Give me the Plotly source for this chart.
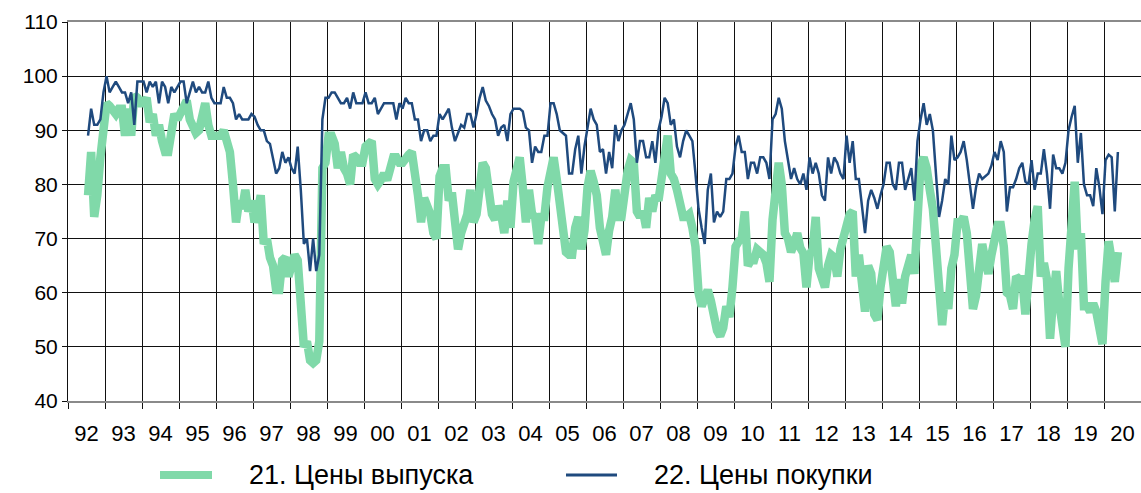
import pandas as pd
import plotly.graph_objects as go

start_month = "1992-07"
year_labels = ["92", "93", "94", "95", "96", "97", "98", "99", "00", "01", "02", "03", "04", "05",
               "06", "07", "08", "09", "10", "11", "12", "13", "14", "15", "16", "17", "18", "19", "20"]
y_ticks = [40, 50, 60, 70, 80, 90, 100, 110]
series_names = ["21. Цены выпуска", "22. Цены покупки"]

output_prices = [
    78, 86, 74, 78, 85, 91,
    95, 94.5, 94, 93, 94, 94, 89, 94, 89, 96.5, 96, 95,
    95, 96, 91.5, 93, 89, 91, 88, 86, 86, 91, 93, 92,
    93, 94.5, 95.5, 92, 91, 89.5, 90, 92, 95, 91, 89, 89,
    89, 89, 90, 88, 86, 80, 73, 77, 75.5, 79, 75, 77,
    73, 75, 78, 69, 70, 66.5, 65, 60.5, 60.5, 66, 66.5, 63,
    65, 67, 66, 57, 50, 51, 47.5, 47, 47.5, 51, 83, 84,
    89, 89, 87.5, 83, 86, 83, 82, 80, 85.5, 85, 84, 84,
    87, 87.5, 88, 81, 80, 80.8, 82, 80.8, 82.7, 85, 85, 84,
    84, 85, 85.5, 86, 80, 78, 73, 77.5, 76, 74.5, 71, 70,
    81.5, 83, 83, 77, 78.5, 71, 68, 71, 73.5, 74.5, 79, 73,
    74.5, 81, 84, 83, 79.5, 74.5, 73.5, 76, 74.5, 71, 77, 72,
    80.5, 83.5, 85, 79.5, 73, 79, 74.5, 74, 69, 74, 74, 79.5,
    82.5, 85, 81, 76, 71, 67.5, 67, 67, 72, 74, 68, 71.5,
    79.5, 82.5, 80.5, 78, 72, 69, 67, 71.5, 74, 79, 74, 74,
    79.5, 82.5, 84.5, 84, 75, 74, 75, 72, 77.5, 75, 78, 77,
    81, 86.5, 89, 82, 81, 79, 75.5, 74, 74, 74.5, 72, 68.5,
    60, 57.5, 59, 60.5, 58.5, 55, 53, 52, 53.5, 57.5, 55.5, 61,
    68.5, 69.5, 70, 75, 65, 66, 66, 68, 67.5, 67, 65.5, 62,
    73.5, 80.5, 84, 80, 71, 70, 67.5, 69, 71, 68.3, 67.3, 61,
    67, 68, 74, 64.5, 62.5, 61, 65, 67, 66.5, 63, 68, 70.5,
    72.5, 74.5, 75, 63, 67, 60, 56.5, 65, 63.5, 56, 55, 61,
    66.5, 68.5, 67.5, 62, 57.5, 62.5, 58, 63, 65.5, 67, 63.5, 78,
    83.5, 85, 83, 79, 75.5, 68.5, 60.5, 54, 60, 57, 64.5, 67,
    73, 73, 74, 71, 64, 57, 59.5, 66, 69, 66, 63.5, 67,
    70.5, 72.5, 72.5, 68.5, 60, 59.5, 57, 63, 62.5, 62.5, 56, 64,
    69, 73.5, 76, 63, 65.5, 62.5, 51.5, 59, 64, 58, 53.5, 50,
    64.5, 73, 80.5, 68, 71, 57.5, 57.5, 56.5, 58, 56.5, 53, 50.5,
    62, 69.5, 66, 62, 67.5,
]

purchase_prices = [
    89, 94, 91, 91, 92, 97,
    100, 97, 98, 99, 98, 97, 97, 95, 97, 91, 99, 99,
    99, 97, 99, 98, 99, 95, 99, 98, 95, 98, 97, 98,
    99, 99, 95, 97, 99, 97, 98, 97, 97, 99, 96, 95,
    95, 95, 98, 96, 96, 95, 92, 93, 92, 92, 92, 93,
    92.5, 91, 90, 90, 88, 87.5, 85, 82, 83, 86, 84, 85,
    83, 82, 87, 79, 69, 70, 64, 70, 64, 67, 92, 96,
    96, 97, 97, 96, 95, 95, 96, 94, 97, 95, 95, 95,
    97, 95, 95, 96, 93, 94, 95, 95, 95, 95, 92, 95,
    94, 96, 95, 95, 92, 92, 88, 90, 90, 88, 89, 89,
    93, 92, 93, 94, 90.5, 88, 89.5, 91, 90.5, 93, 93, 90.5,
    93, 96, 98, 95.5, 94.5, 93, 92, 89, 90.5, 91, 88, 93,
    94, 94, 94, 93.5, 90.5, 90, 84, 87, 86, 86, 89, 89,
    95, 95, 93, 90, 89.5, 89, 82, 82, 86.5, 89, 82, 87,
    90.5, 94, 92, 91, 86, 86.5, 82, 86, 83, 91, 88, 90,
    91, 93, 95, 92, 84, 88, 88, 85, 85, 88, 84, 90,
    92.5, 96, 95, 91, 92, 87, 85, 88, 90, 89, 88, 82,
    75.5, 72, 69, 79, 82, 73, 75, 74, 75, 81, 81, 82,
    87, 89, 86, 86, 81, 84, 84, 82, 85, 85, 84, 81,
    92, 93, 96, 94, 88, 84.5, 81, 83, 81, 80, 82, 79,
    85, 82, 84, 82, 78, 77, 85, 82, 85, 84, 82, 81,
    89, 84, 88, 81, 81, 76, 71, 77, 79, 77.5, 75.5, 78,
    80, 84, 84, 80, 79, 84, 84, 79, 81, 83, 77, 88,
    92, 95, 91, 93, 90, 82.5, 74, 77, 81, 80, 89, 84.5,
    85, 86, 88, 84.5, 80, 75.5, 79.5, 82, 81, 81.5, 82, 83.5,
    86, 84.5, 88, 86, 75, 79.5, 79.5, 81, 83, 84, 80.5, 80,
    84.5, 79, 82, 82, 86.5, 82, 75.5, 85.5, 83, 83, 82, 84,
    90, 92.5, 94.5, 84, 89.5, 80, 78, 78, 76, 83, 79.5, 74.5,
    84.5, 85.5, 85, 75, 86,
]

GREEN = "#80D9A9"
BLUE = "#1F4A7E"
FONT = "Liberation Sans, Arial, sans-serif"

months = pd.period_range(start=start_month, periods=len(output_prices), freq="M")
x_vals = [p.year + (p.month - 0.5) / 12 for p in months]
first_year = 1992
years = list(range(first_year, first_year + len(year_labels) + 1))

fig = go.Figure()
fig.add_trace(go.Scatter(x=x_vals, y=output_prices, mode="lines", name=series_names[0],
                         line=dict(color=GREEN, width=8.5), showlegend=False))
fig.add_trace(go.Scatter(x=x_vals, y=purchase_prices, mode="lines", name=series_names[1],
                         line=dict(color=BLUE, width=2.5), showlegend=False))

W, H = 1141, 493
ML, MR, MT, MB = 68, 0, 22, 92
pw, ph = W - ML - MR, H - MT - MB


def px_to_paper(px, py):
    return (px - ML) / pw, (H - MB - py) / ph


# manual legend
legend_items = [(GREEN, 8, 160, 212, 247), (BLUE, 3, 566, 617, 652)]
for (col, wid, lx0, lx1, tx), name in zip(legend_items, series_names):
    x0, yy = px_to_paper(lx0, 475)
    x1, _ = px_to_paper(lx1, 475)
    fig.add_shape(type="line", xref="paper", yref="paper", x0=x0, x1=x1, y0=yy, y1=yy,
                  line=dict(color=col, width=wid))
    txp, _ = px_to_paper(tx, 475)
    fig.add_annotation(xref="paper", yref="paper", x=txp, y=yy, text=name, showarrow=False,
                       xanchor="left", yanchor="middle", font=dict(size=27, color="black", family=FONT))

fig.update_layout(
    width=W, height=H,
    margin=dict(l=ML, r=MR, t=MT, b=MB, autoexpand=False),
    plot_bgcolor="white", paper_bgcolor="white",
    font=dict(family=FONT, size=20, color="black"),
    showlegend=False,
    xaxis=dict(
        range=[first_year, first_year + len(year_labels)],
        tickmode="array",
        tickvals=[y + 0.5 for y in years[:len(year_labels)]],
        ticktext=year_labels,
        ticks="outside", ticklen=12, tickcolor="rgba(0,0,0,0)",
        showgrid=False, zeroline=False,
        minor=dict(tickmode="array", tickvals=years, showgrid=True, gridcolor="#111",
                   gridwidth=1, ticks="outside", ticklen=6, tickcolor="#111"),
        showline=True, linecolor="#8a8a8a", linewidth=2, mirror=True,
        tickfont=dict(size=22),
    ),
    yaxis=dict(
        range=[40, 110], tickmode="array", tickvals=y_ticks,
        ticks="outside", ticklen=5, tickcolor="#111",
        showgrid=True, gridcolor="#111", gridwidth=1, zeroline=False,
        showline=True, linecolor="#111", linewidth=1,
        tickfont=dict(size=21),
    ),
)

fig.write_html("out.html", config={"displayModeBar": False},
               post_script="document.body.style.margin='0';document.body.style.overflow='hidden';")
